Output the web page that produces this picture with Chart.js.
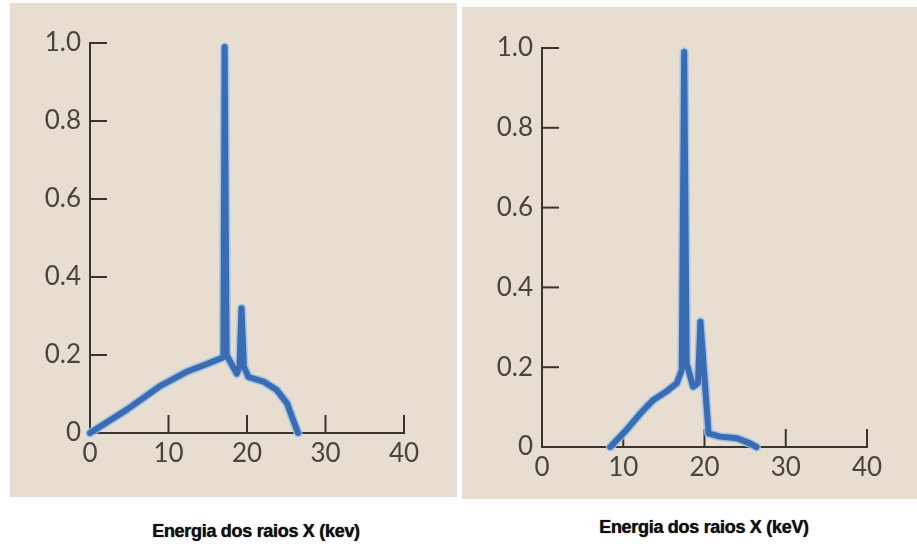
<!DOCTYPE html>
<html>
<head>
<meta charset="utf-8">
<script src="https://cdn.jsdelivr.net/npm/chart.js@4/dist/chart.umd.min.js"></script>
<style>
  body { margin: 0; background: #fff; width: 917px; height: 547px; position: relative; overflow: hidden; }
  .panel { position: absolute; background: #e7ddd1; }
  .panel canvas { display: block; }
  .caption {
    position: absolute; transform: translate(-50%, -50%); white-space: nowrap;
    font-family: "Liberation Sans", Arial, sans-serif; font-weight: bold; font-size: 18px; color: #111;
    letter-spacing: -0.3px; text-shadow: 0 0 1px #222;
  }
</style>
</head>
<body>
<div class="panel" style="left:10px; top:3px; width:447px; height:494px;">
  <canvas id="leftChart" width="447" height="494"></canvas>
</div>
<div class="panel" style="left:462px; top:7px; width:455px; height:492px;">
  <canvas id="rightChart" width="455" height="492"></canvas>
</div>
<div class="caption" style="left:256px; top:531px;">Energia dos raios X (kev)</div>
<div class="caption" style="left:704px; top:527px;">Energia dos raios X (keV)</div>

<script>
// spectrum on the left (energy in keV, relative intensity)
const leftEnergy    = [0, 4.7, 8.9, 12.3, 14.9, 17.0, 17.15, 17.4, 18.7, 19.05, 19.3, 19.6, 20.2, 22.1, 23.8, 25.1, 26.5];
const leftIntensity = [0, 0.06, 0.12, 0.157, 0.177, 0.194, 0.99, 0.2, 0.152, 0.17, 0.32, 0.17, 0.143, 0.132, 0.11, 0.076, 0];

// spectrum on the right
const rightEnergy    = [8.4, 10.4, 12.1, 13.7, 15.3, 16.6, 17.2, 17.5, 17.8, 18.6, 19.2, 19.5, 20.5, 21.9, 24.0, 25.6, 26.4];
const rightIntensity = [0, 0.043, 0.084, 0.118, 0.139, 0.16, 0.193, 0.99, 0.21, 0.151, 0.16, 0.314, 0.034, 0.026, 0.022, 0.009, 0];

const xTicks = [0, 10, 20, 30, 40];
const yTicks = [0, 0.2, 0.4, 0.6, 0.8, 1.0];

const axisColor = '#3a3430';
const tickColor = '#4a4440';
const lineColor = '#3b6cb2';
const haloColor = 'rgba(150,190,235,0.85)';

// ticks that point into the plot, like in the printed figure
const innerTicks = {
    id: 'innerTicks',
    beforeDatasetsDraw(chart) {
        const ctx = chart.ctx;
        const x = chart.scales.x;
        const y = chart.scales.y;
        const x0 = x.getPixelForValue(0);
        const y0 = y.getPixelForValue(0);
        ctx.save();
        ctx.strokeStyle = axisColor;
        ctx.lineWidth = 2;
        xTicks.filter(v => v > 0).forEach(v => {
            const px = x.getPixelForValue(v);
            ctx.beginPath();
            ctx.moveTo(px, y0 + 1);
            ctx.lineTo(px, y0 - 18);
            ctx.stroke();
        });
        yTicks.filter(v => v > 0).forEach(v => {
            const py = y.getPixelForValue(v);
            ctx.beginPath();
            ctx.moveTo(x0 - 1, py);
            ctx.lineTo(x0 + 17, py);
            ctx.stroke();
        });
        ctx.restore();
    }
};

function makeSpectrum(canvasId, energy, intensity, padding) {
    const points = energy.map((e, i) => ({ x: e, y: intensity[i] }));
    new Chart(document.getElementById(canvasId), {
        type: 'line',
        data: {
            datasets: [
                { data: points, borderColor: lineColor, borderWidth: 6, pointRadius: 0, tension: 0,
                  borderJoinStyle: 'round', borderCapStyle: 'round', clip: false },
                { data: points, borderColor: haloColor, borderWidth: 9, pointRadius: 0, tension: 0,
                  borderJoinStyle: 'round', borderCapStyle: 'round', clip: false }
            ]
        },
        options: {
            responsive: false,
            animation: false,
            layout: { padding: padding },
            plugins: { legend: { display: false }, tooltip: { enabled: false } },
            scales: {
                x: {
                    type: 'linear', min: 0, max: 40,
                    afterBuildTicks: s => { s.ticks = xTicks.map(v => ({ value: v })); },
                    afterFit: s => { s.height = 40; },
                    grid: { display: false, drawTicks: false },
                    border: { display: true, color: axisColor, width: 2 },
                    ticks: { padding: 5, color: tickColor, font: { family: 'Lato', size: 26 } }
                },
                y: {
                    type: 'linear', min: 0, max: 1,
                    afterBuildTicks: s => { s.ticks = yTicks.map(v => ({ value: v })); },
                    afterFit: s => { s.width = 80; },
                    grid: { display: false, drawTicks: false },
                    border: { display: true, color: axisColor, width: 2 },
                    ticks: {
                        padding: 9, color: tickColor, font: { family: 'Lato', size: 26 },
                        callback: v => v === 0 ? '0' : v.toFixed(1)
                    }
                }
            }
        },
        plugins: [innerTicks]
    });
}

makeSpectrum('leftChart', leftEnergy, leftIntensity, { left: 0, right: 53, top: 40, bottom: 24 });
makeSpectrum('rightChart', rightEnergy, rightIntensity, { left: 0, right: 50, top: 41, bottom: 12 });
</script>
</body>
</html>
